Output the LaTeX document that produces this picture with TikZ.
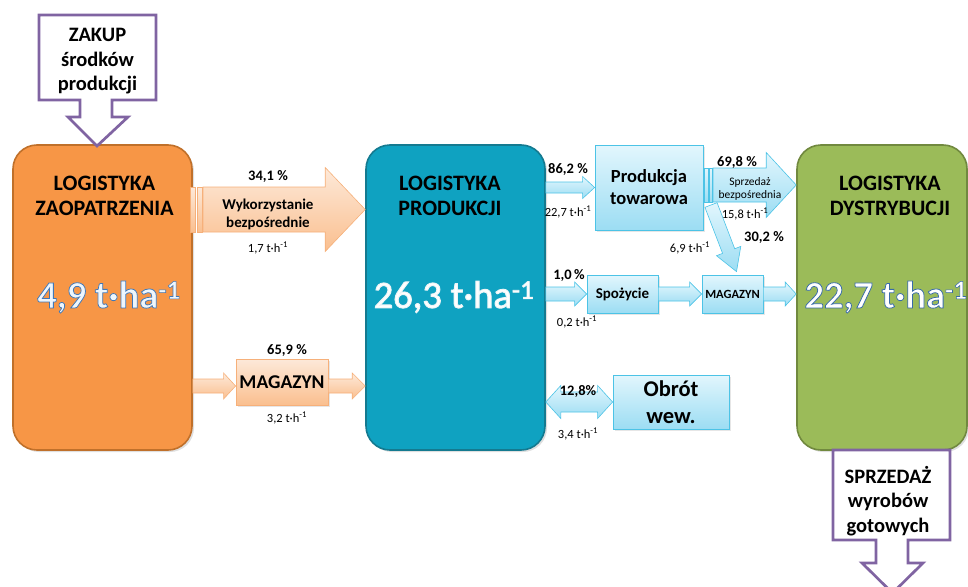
\documentclass[tikz,border=0pt]{standalone}
\usepackage{fontspec}
\setmainfont{Carlito}
\newfontfamily\outlfont[FakeBold=2]{Carlito}
\newfontfamily\shadfont[FakeBold=2.5]{Carlito}
\usetikzlibrary{calc,shadows}
\definecolor{orfill}{HTML}{F79646}
\definecolor{orline}{HTML}{C0702A}
\definecolor{tefill}{HTML}{0FA2C1}
\definecolor{teline}{HTML}{147A90}
\definecolor{grfill}{HTML}{9BBB59}
\definecolor{grline}{HTML}{71893F}
\definecolor{purp}{HTML}{8064A2}
\definecolor{otop}{HTML}{FDE9D9}
\definecolor{obot}{HTML}{FABF8F}
\definecolor{oline}{HTML}{F6B07A}
\definecolor{btop}{HTML}{E2F6FD}
\definecolor{bbot}{HTML}{9CDDF3}
\definecolor{bline}{HTML}{4CC3E6}
\definecolor{ltxt}{HTML}{EEF6FC}

% fat arrow: #1 style, #2 start, #3 tip, #4 body half width, #5 head half width, #6 head length
\newcommand\fatarrow[6]{%
  \coordinate (fah) at ($(#3)!#6!(#2)$);
  \path[#1] ($(#2)!#4!90:(#3)$) -- ($(fah)!#4!-90:(#2)$) -- ($(fah)!#5!-90:(#2)$) -- (#3)
    -- ($(fah)!#5!90:(#2)$) -- ($(fah)!#4!90:(#2)$) -- ($(#2)!#4!-90:(#3)$) -- cycle;}

% outlined text: fill colour #1, stroke colour as r g b in #2, font switch #3, text #4
\newcommand\outltext[4]{{\color{#1}\special{pdf:literal direct #2 RG}#3#4}}

\begin{document}
\begin{tikzpicture}[x=1pt,y=-1pt,
  mainbox/.style={draw, line width=1.6pt, rounded corners=24pt, minimum width=179pt,
    minimum height=305pt, inner sep=0pt,
    drop shadow={shadow xshift=2pt,shadow yshift=-2pt,opacity=.25}},
  callout/.style={draw=purp, line width=2.7pt, fill=white, line join=miter},
  calltxt/.style={font=\fontsize{20.5}{24.5}\selectfont\bfseries, align=center, inner sep=0pt},
  obox/.style={draw=oline, top color=otop, bottom color=obot, line width=0.8pt, inner sep=0pt,
    drop shadow={shadow xshift=1.5pt,shadow yshift=-1.5pt,opacity=.2}},
  bbox/.style={draw=bline, top color=btop, bottom color=bbot, line width=0.8pt, inner sep=0pt,
    drop shadow={shadow xshift=1.5pt,shadow yshift=-1.5pt,opacity=.2}},
  oarrow/.style={draw=oline, top color=otop, bottom color=obot, line width=0.6pt, line join=miter},
  barrow/.style={draw=bline, top color=btop, bottom color=bbot, line width=0.6pt, line join=miter},
  head/.style={font=\fontsize{22}{25.5}\selectfont\bfseries, align=center, inner sep=0pt},
  big/.style={font=\fontsize{38.5}{40}\selectfont, inner sep=0pt},
  pct/.style={font=\fontsize{14.5}{16}\selectfont\bfseries, inner sep=0pt},
  val/.style={font=\fontsize{12.5}{14}\selectfont, inner sep=0pt},
  smalltxt/.style={font=\fontsize{11.5}{12.5}\selectfont, align=center, inner sep=0pt}]
\useasboundingbox (0,0) rectangle (968,586);

% ---------- main boxes
\node[mainbox, fill=orfill, draw=orline] (orange) at (102.5,297.5) {};
\node[mainbox, fill=tefill, draw=teline] (teal) at (455.5,297.5) {};
\node[mainbox, fill=grfill, draw=grline, minimum width=170pt] (green) at (882,297.5) {};

\node[head] (hOr) at (104.5,196) {LOGISTYKA\\ZAOPATRZENIA};
\node[head] (hTe) at (450,196) {LOGISTYKA\\PRODUKCJI};
\node[head] (hGr) at (890,196) {LOGISTYKA\\DYSTRYBUCJI};

\node[big] (vOr) at (109,297) {\outltext{ltxt}{0.25 0.47 0.72}{\outlfont\bfseries}{4,9 t·ha\textsuperscript{-1}}};
\node[big] (vTe) at (454,297) {\outltext{white}{0.93 0.96 0.97}{\shadfont}{26,3 t·ha\textsuperscript{-1}}};
\node[big] (vGr) at (886,297) {\outltext{white}{0.22 0.42 0.66}{\outlfont\bfseries}{22,7 t·ha\textsuperscript{-1}}};

% ---------- callouts
\draw[callout] (39,15) -- (156,15) -- (156,100) -- (112,100) -- (112,117) -- (128,117)
  -- (97,146) -- (68,117) -- (80,117) -- (80,100) -- (39,100) -- cycle;
\node[calltxt] (zakup) at (97.5,61.5) {ZAKUP\\środków\\produkcji};

\draw[callout] (833,450) -- (950,450) -- (950,540) -- (908,540) -- (908,563) -- (923,563)
  -- (892.5,593) -- (862,563) -- (876,563) -- (876,540) -- (833,540) -- cycle;
\node[calltxt] (sprz) at (888,501) {SPRZEDAŻ\\wyrobów\\gotowych};

% ---------- small boxes
\node[obox, minimum width=92pt, minimum height=46pt, font=\fontsize{19.5}{20}\selectfont\bfseries] (magO) at (282,382) {MAGAZYN};
\node[bbox, minimum width=108pt, minimum height=85pt, font=\fontsize{18.5}{22}\selectfont\bfseries, align=center] (prod) at (649,187.5) {Produkcja\\towarowa};
\node[bbox, minimum width=71pt, minimum height=38pt, font=\fontsize{15}{16}\selectfont\bfseries] (spoz) at (622.5,294) {Spożycie};
\node[bbox, minimum width=61pt, minimum height=38pt, font=\fontsize{12.5}{14}\selectfont\bfseries] (magB) at (732.5,294) {MAGAZYN};
\node[bbox, minimum width=116pt, minimum height=54pt, font=\fontsize{22.5}{27}\selectfont\bfseries, align=center] (obrot) at (671,402) {Obrót\\wew.};

% ---------- coordinates for the fat arrows
\coordinate (w1s) at (203,209.5);
\coordinate (w1e) at (teal.west |- w1s);
\coordinate (o1s) at (orange.east |- 0,386);
\coordinate (o1e) at (magO.west |- o1s);
\coordinate (o2s) at (magO.east |- o1s);
\coordinate (o2e) at (teal.west |- o1s);
\coordinate (b1s) at (teal.east |- prod.west);
\coordinate (b2s) at (713,185);
\coordinate (b2e) at (green.west |- b2s);
\coordinate (b3s) at (711,205);
\coordinate (b3e) at ($(magB.north)+(4,-3)$);
\coordinate (b4s) at (teal.east |- spoz.west);
\coordinate (b5e) at (green.west |- magB.east);
\coordinate (b6s) at (teal.east |- obrot.west);
\coordinate (b6e) at (obrot.west);

% ---------- orange arrows
\draw[oarrow] (190,187) rectangle (195,232);
\draw[oarrow] (197,187) rectangle (202,232);
\fatarrow{oarrow}{w1s}{w1e}{22.5pt}{42pt}{40pt}
\fatarrow{oarrow}{o1s}{o1e}{7pt}{13pt}{12pt}
\fatarrow{oarrow}{o2s}{o2e}{7pt}{13pt}{13pt}

% ---------- blue arrows
\fatarrow{barrow}{b1s}{prod.west}{5.5pt}{11pt}{12pt}
\fatarrow{barrow}{b3s}{b3e}{6.5pt}{13pt}{22pt}
\draw[barrow] (704,168) rectangle (708,202);
\draw[barrow] (709.5,168) rectangle (712.5,202);
\fatarrow{barrow}{b2s}{b2e}{17pt}{32.5pt}{30pt}
\fatarrow{barrow}{b4s}{spoz.west}{7pt}{12pt}{12pt}
\fatarrow{barrow}{spoz.east}{magB.west}{7pt}{12pt}{12pt}
\fatarrow{barrow}{magB.east}{b5e}{7pt}{12pt}{11pt}
\path[barrow] (b6s) -- ($(b6s)+(15,-16.5)$) -- ($(b6s)+(15,-10)$) -- ($(b6e)+(-15,-10)$)
  -- ($(b6e)+(-15,-16.5)$) -- (b6e) -- ($(b6e)+(-15,16.5)$) -- ($(b6e)+(-15,10)$)
  -- ($(b6s)+(15,10)$) -- ($(b6s)+(15,16.5)$) -- cycle;

% ---------- labels
\node[pct] (p341) at (268,176) {34,1 \%};
\node[font=\fontsize{15}{18}\selectfont\bfseries, align=center, inner sep=0pt] (wyk) at (268,214) {Wykorzystanie\\bezpośrednie};
\node[val] (v17) at (268,248) {1,7 t·h\textsuperscript{-1}};
\node[pct] (p659) at (287,350) {65,9 \%};
\node[val] (v32) at (287,418) {3,2 t·h\textsuperscript{-1}};

\node[pct] (p862) at (568,169) {86,2 \%};
\node[val] (v227) at (568,212) {22,7 t·h\textsuperscript{-1}};
\node[pct] (p698) at (737,162) {69,8 \%};
\node[smalltxt] (sbez) at (750,189) {Sprzedaż\\bezpośrednia};
\node[val] (v158) at (745,214) {15,8 t·h\textsuperscript{-1}};
\node[pct] (p302) at (764,237) {30,2 \%};
\node[val] (v69) at (690,248) {6,9 t·h\textsuperscript{-1}};
\node[pct] (p10) at (569,275) {1,0\,\%};
\node[val] (v02) at (577,322) {0,2 t·h\textsuperscript{-1}};
\node[pct] (p128) at (578,391) {12,8\%};
\node[val] (v34) at (578,434) {3,4 t·h\textsuperscript{-1}};
\end{tikzpicture}
\end{document}
